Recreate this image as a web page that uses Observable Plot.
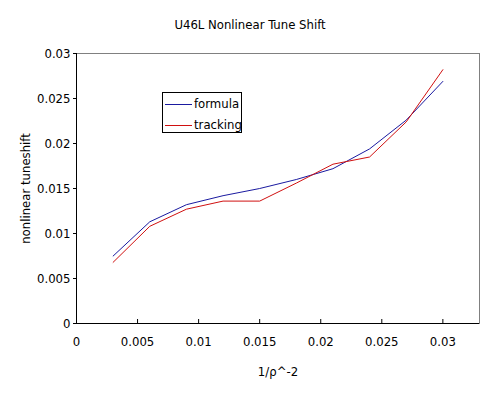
<!DOCTYPE html>
<html>
<head>
<meta charset="utf-8">
<script src="https://cdn.jsdelivr.net/npm/d3@7"></script>
<script src="https://cdn.jsdelivr.net/npm/@observablehq/plot@0.6"></script>
<style>
  body { margin: 0; background: #fff; font-family: "Liberation Sans Narrow", "DejaVu Sans Condensed", sans-serif; }
  #wrap { position: relative; width: 500px; height: 400px; }
  #title { height: 44px; line-height: 50px; text-align: center; font-size: 13px; color: #000; }
  #legend { position: absolute; left: 162px; top: 92px; width: 78px; height: 39px; border: 1px solid #000; background: #fff; font-size: 13px; }
  .row { position: absolute; left: 2px; height: 16px; line-height: 16px; white-space: nowrap; }
  .sw { display: inline-block; width: 27px; height: 0; vertical-align: middle; margin-right: 2px; }
</style>
</head>
<body>
<div id="wrap">
  <div id="title">U46L Nonlinear Tune Shift</div>
  <div id="chart"></div>
  <div id="legend">
    <div class="row" style="top:3px"><span class="sw" style="border-top:1px solid #1a1aa0"></span>formula</div>
    <div class="row" style="top:24px"><span class="sw" style="border-top:1px solid #d01010"></span>tracking</div>
  </div>
</div>
<script>
const xValues = [0.003, 0.006, 0.009, 0.012, 0.015, 0.018, 0.021, 0.024, 0.027, 0.030];
const formula = [0.0075, 0.0113, 0.0132, 0.0142, 0.0150, 0.0160, 0.0172, 0.0194, 0.0226, 0.0269];
const tracking = [0.0068, 0.0108, 0.0127, 0.0136, 0.0136, 0.0156, 0.0177, 0.0185, 0.0224, 0.0282];
const xTicks = [0, 0.005, 0.01, 0.015, 0.02, 0.025, 0.03];
const xTickLabels = ["0", "0.005", "0.01", "0.015", "0.02", "0.025", "0.03"];
const yTicks = [0, 0.005, 0.01, 0.015, 0.02, 0.025, 0.03];
const yTickLabels = ["0", "0.005", "0.01", "0.015", "0.02", "0.025", "0.03"];

const data = [
  ...xValues.map((x, i) => ({x, y: formula[i], s: "formula"})),
  ...xValues.map((x, i) => ({x, y: tracking[i], s: "tracking"}))
];

const H = 356, mt = 9, mb = 77;
const chart = Plot.plot({
  width: 500,
  height: H,
  marginTop: mt,
  marginBottom: mb,
  marginLeft: 76,
  marginRight: 21,
  style: {fontFamily: '"Liberation Sans Narrow", "DejaVu Sans Condensed", sans-serif', fontSize: "13px", color: "#000", background: "#fff"},
  x: {domain: [0, 0.033]},
  y: {domain: [0, 0.03]},
  color: {domain: ["formula", "tracking"], range: ["#1a1aa0", "#d01010"]},
  marks: [
    Plot.frame({stroke: "#808080"}),
    Plot.ruleX([0], {stroke: "#000"}),
    Plot.ruleY([0], {stroke: "#000"}),
    Plot.tickX(xTicks.slice(1), {x: d => d, stroke: "#000", insetTop: H - mt - mb - 4}),
    Plot.axisX({ticks: xTicks, tickSize: 0, tickPadding: 13, tickFormat: d => xTickLabels[xTicks.indexOf(d)],
      label: "1/ρ^-2", labelAnchor: "center", labelOffset: 52, labelArrow: "none"}),
    Plot.axisY({ticks: yTicks, tickSize: 3, tickPadding: 3, tickFormat: d => yTickLabels[yTicks.indexOf(d)],
      label: "nonlinear tuneshift", labelAnchor: "center", labelOffset: 56, labelArrow: "none"}),
    Plot.line(data, {x: "x", y: "y", z: "s", stroke: "s", strokeWidth: 1})
  ]
});
document.getElementById("chart").appendChild(chart);
</script>
</body>
</html>
